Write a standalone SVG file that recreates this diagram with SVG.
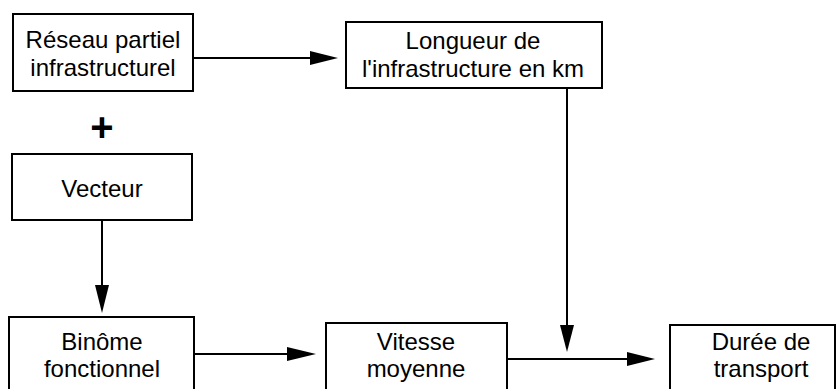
<svg xmlns="http://www.w3.org/2000/svg" width="836" height="389" viewBox="0 0 836 389">
<style>
.box{fill:#fff;stroke:#000;stroke-width:2}
.lbl{font-family:"Liberation Sans",Arial,sans-serif;font-size:24px;fill:#000;text-anchor:middle}
.edge{stroke:#000;stroke-width:2;fill:none}
.head{fill:#000;stroke:none}
</style>
<rect width="836" height="389" fill="#fff"/>
<g id="connectors">
<line class="edge" x1="193" y1="58" x2="312" y2="58"/>
<polygon class="head" points="310,51 338,58 310,65"/>
<line class="edge" x1="567" y1="88" x2="567" y2="327"/>
<polygon class="head" points="560,325 574,325 567,352"/>
<line class="edge" x1="102" y1="220" x2="102" y2="287"/>
<polygon class="head" points="95,285 109,285 102,313"/>
<line class="edge" x1="194" y1="354" x2="289" y2="354"/>
<polygon class="head" points="287,347 316,354 287,361"/>
<line class="edge" x1="507" y1="359" x2="629" y2="359"/>
<polygon class="head" points="627,352 655,359 627,366"/>
</g>
<g id="reseau">
<rect class="box" x="13" y="14" width="180" height="77"/>
<text class="lbl" x="103" y="48">Réseau partiel</text>
<text class="lbl" x="103" y="76">infrastructurel</text>
</g>
<g id="plus">
<text x="102" y="141" style="font-family:'Liberation Sans',Arial,sans-serif;font-size:40px;font-weight:bold;text-anchor:middle;fill:#000">+</text>
</g>
<g id="longueur">
<rect class="box" x="346" y="22" width="256" height="66"/>
<text class="lbl" x="473" y="49">Longueur de</text>
<text class="lbl" x="473" y="77">l'infrastructure en km</text>
</g>
<g id="vecteur">
<rect class="box" x="12" y="154" width="180" height="66"/>
<text class="lbl" x="102" y="197">Vecteur</text>
</g>
<g id="binome">
<rect class="box" x="9" y="317" width="185" height="80"/>
<text class="lbl" x="102" y="350">Binôme</text>
<text class="lbl" x="102" y="377">fonctionnel</text>
</g>
<g id="vitesse">
<rect class="box" x="326" y="323" width="181" height="80"/>
<text class="lbl" x="416" y="350">Vitesse</text>
<text class="lbl" x="416" y="377">moyenne</text>
</g>
<g id="duree">
<rect class="box" x="670" y="325" width="165" height="80"/>
<text class="lbl" x="761" y="350">Durée de</text>
<text class="lbl" x="761" y="377">transport</text>
</g>
</svg>
